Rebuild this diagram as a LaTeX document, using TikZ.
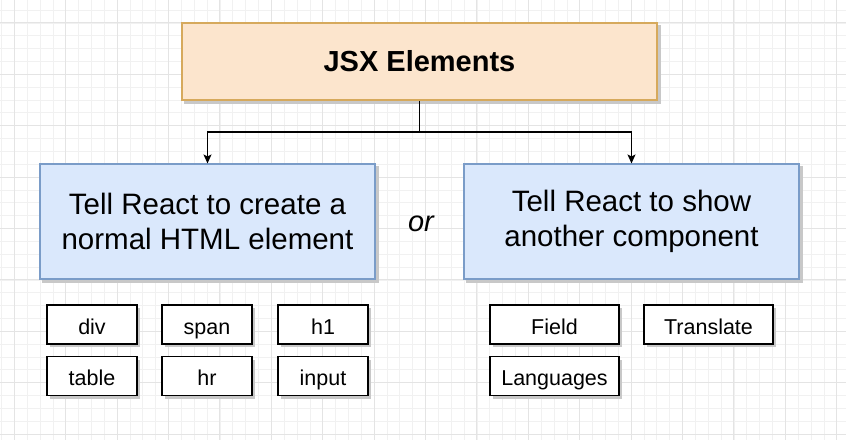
\documentclass[tikz,border=0pt]{standalone}
\usepackage{fontspec}
\setmainfont{Liberation Sans}
\usetikzlibrary{arrows.meta}
\definecolor{gridminor}{HTML}{F1F1F1}
\definecolor{gridmajor}{HTML}{E4E4E4}
\definecolor{orfill}{HTML}{FCE5CD}
\definecolor{ordraw}{HTML}{D6A95C}
\definecolor{blfill}{HTML}{DAE8FC}
\definecolor{bldraw}{HTML}{7A9CC8}
\definecolor{shadowc}{HTML}{C8C8C8}
\tikzset{
  boxbase/.style={rectangle, inner sep=0pt, align=center, text=black, line width=1.1pt},
  topbox/.style={boxbase, fill=orfill, draw=ordraw, minimum width=475pt, minimum height=77pt, font=\fontsize{29}{35}\selectfont\bfseries},
  bluebox/.style={boxbase, fill=blfill, draw=bldraw, minimum width=335pt, minimum height=115pt, font=\fontsize{29.5}{35}\selectfont},
  tagbox/.style={boxbase, fill=white, draw=black, line width=1.2pt, minimum height=39pt, text height=19pt, text depth=0pt, font=\fontsize{21.5}{25}\selectfont},
  conn/.style={draw=black, line width=1.2pt},
  arr/.style={conn, -{Stealth[length=9pt, width=8pt, inset=2pt]}},
}
\newcommand{\shadowbox}[1]{\fill[shadowc] ([xshift=3pt,yshift=-3pt]#1.south west) rectangle ([xshift=3pt,yshift=-3pt]#1.north east);}
\begin{document}
\begin{tikzpicture}[x=1pt,y=-1pt]
\useasboundingbox (0,0) rectangle (846,440);
\fill[white] (0,0) rectangle (846,440);
% grid
\foreach \i in {0,...,66} {
  \draw[gridminor, line width=0.8pt] ({1.5+12.85*\i},0) -- ({1.5+12.85*\i},440);
}
\foreach \i in {0,...,34} {
  \draw[gridminor, line width=0.8pt] (0,{10.05+12.85*\i}) -- (846,{10.05+12.85*\i});
}
\foreach \i in {0,...,16} {
  \draw[gridmajor, line width=0.9pt] ({14.3+51.4*\i},0) -- ({14.3+51.4*\i},440);
}
\foreach \i in {0,...,8} {
  \draw[gridmajor, line width=0.9pt] (0,{22.9+51.4*\i}) -- (846,{22.9+51.4*\i});
}
% shadow placeholders
\path
  (419.5,61.5) node[topbox, draw=none, fill=none, text opacity=0] (top0) {JSX Elements}
  (207.5,221.5) node[bluebox, draw=none, fill=none, text opacity=0] (left0) {X}
  (631.5,221.5) node[bluebox, draw=none, fill=none, text opacity=0] (right0) {X};
\shadowbox{top0}
\shadowbox{left0}
\shadowbox{right0}
\node[topbox] (top) at (419.5,61.5) {JSX Elements};
\node[bluebox] (left) at (207.5,221.5) {Tell React to create a\\normal HTML element};
\node[bluebox] (right) at (631.5,221.5) {Tell React to show\\another component};
\node[font=\fontsize{29}{35}\selectfont\itshape] (or) at (421,224) {or};
% tags
\foreach \nm/\x/\y/\w/\t in {div/92/324.5/90/div, span/207/324.5/90/span, hone/323/324.5/90/h1,
    table/92/376/90/table, hr/207/376/90/hr, input/323/376/90/input,
    field/554.5/324.5/129/Field, translate/708.5/324.5/129/Translate, languages/554.5/376/129/Languages} {
  \fill[shadowc] ({\x-\w/2+3},{\y-19.5+3}) rectangle ({\x+\w/2+3},{\y+19.5+3});
  \node[tagbox, minimum width=\w pt] (\nm) at (\x,\y) {\t};
}
% connectors
\coordinate (j) at (419.5,132);
\draw[conn] (top.south) -- (j);
\draw[arr] (j) -| (left.north);
\draw[arr] (j) -| (right.north);
\end{tikzpicture}
\end{document}
